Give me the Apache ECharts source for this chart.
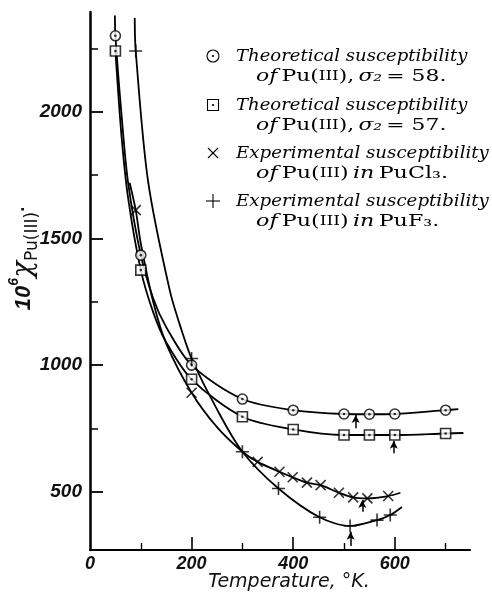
<!DOCTYPE html>
<html>
<head>
<meta charset="utf-8">
<script src="https://cdn.jsdelivr.net/npm/echarts@6/dist/echarts.min.js"></script>
<style>
html,body{margin:0;padding:0;background:#fff;}
#chart{width:492px;height:593px;}
</style>
</head>
<body>
<div id="chart"></div>
<script>
// ---- data ----
const xLabelValues = [0, 200, 400, 600];
const xMajorTicks = [200, 400, 600];
const xMinorTicks = [100, 300, 500, 700];
const yLabelValues = [500, 1000, 1500, 2000];
const yMinorTicks = [750, 1250, 1750, 2250];

// Theoretical susceptibility, sigma2 = 58 (circles)
const theo58 = [[50,2300],[100,1434],[200,1000],[300,866],[400,822],[500,807],[550,806],[600,807],[700,822]];
// extra points (no marker)
const theo58Curve = [[49,2380],[62,1990],[75,1720],[125,1260],[150,1150],[725,826]];
// Theoretical susceptibility, sigma2 = 57 (squares)
const theo57 = [[50,2240],[100,1375],[200,944],[300,796],[400,746],[500,724],[550,724],[600,724],[700,730]];
const theo57Curve = [[62,1905],[75,1660],[125,1205],[150,1090],[735,732]];
// Experimental, PuCl3 (crosses)
const puCl3 = [[90,1612],[200,891],[330,618],[373,579],[399,557],[427,536],[454,526],[490,496],[518,478],[546,474],[587,483]];
const puCl3Curve = [[78,1720],[100,1480],[125,1245],[150,1085],[250,755],[300,658],[611,496]];
// Experimental, PuF3 (pluses)
const puF3 = [[90,2240],[200,1026],[300,658],[371,513],[452,399],[512,365],[565,388],[591,408]];
const puF3Curve = [[88,2370],[114,1730],[157,1295],[182,1127],[250,825],[614,440]];
// arrows: [temperature, tail value, tip value]
const arrows = [[523,751,803],[598,652,701],[536,421,467],[513,286,342]];

const xMin = 0, xMax = 748, yMin = 270, yMax = 2394;

function curve(points, extra){ return points.concat(extra).sort((a,b)=>a[0]-b[0]); }

const labelFont = {fontFamily:'Liberation Sans', fontStyle:'italic', fontWeight:'bold', color:'#111'};

const lineCommon = {type:'line', smooth:0.3, symbol:'none', silent:true,
  lineStyle:{color:'#000', width:1.8}, z:2};

const crossPath = 'path://M0,0L10,10M10,0L0,10';
const plusPath = 'path://M5,0L5,10M0,5L10,5';
const plainNum = v => String(v);

const option = {
  animation:false,
  backgroundColor:'#fff',
  grid:{left:90, right:22, top:12, bottom:43},
  xAxis:[
    {type:'value', min:xMin, max:xMax, splitLine:{show:false},
     axisLine:{show:true, lineStyle:{color:'#000', width:2.2}},
     axisTick:{show:true, inside:true, length:13, lineStyle:{color:'#000', width:1.6}, customValues:xMajorTicks},
     axisLabel:Object.assign({fontSize:18, margin:5, customValues:xLabelValues, formatter:plainNum}, labelFont)},
    {type:'value', min:xMin, max:xMax, position:'bottom', splitLine:{show:false},
     axisLine:{show:false},
     axisTick:{show:true, inside:true, length:7, lineStyle:{color:'#000', width:1.4}, customValues:xMinorTicks},
     axisLabel:{show:false}}
  ],
  yAxis:[
    {type:'value', min:yMin, max:yMax, splitLine:{show:false},
     axisLine:{show:true, lineStyle:{color:'#000', width:2.5}},
     axisTick:{show:true, inside:true, length:13, lineStyle:{color:'#000', width:1.8}, customValues:yLabelValues},
     axisLabel:Object.assign({fontSize:19, margin:8, customValues:yLabelValues, formatter:plainNum}, labelFont)},
    {type:'value', min:yMin, max:yMax, position:'left', splitLine:{show:false},
     axisLine:{show:false},
     axisTick:{show:true, inside:true, length:8, lineStyle:{color:'#000', width:1.5}, customValues:yMinorTicks},
     axisLabel:{show:false}}
  ],
  series:[
    Object.assign({}, lineCommon, {data:curve(theo58, theo58Curve)}),
    Object.assign({}, lineCommon, {data:curve(theo57, theo57Curve)}),
    Object.assign({}, lineCommon, {data:curve(puCl3, puCl3Curve)}),
    Object.assign({}, lineCommon, {data:curve(puF3, puF3Curve),
      markLine:{silent:true, symbol:['none','arrow'], symbolSize:[6,8], label:{show:false},
        lineStyle:{color:'#000', width:1.5, type:'solid'},
        data:arrows.map(a => [{coord:[a[0],a[1]]},{coord:[a[0],a[2]]}])}}),
    {type:'scatter', data:theo58, symbol:'circle', symbolSize:10, z:5, silent:true,
     itemStyle:{color:'#fff', borderColor:'#000', borderWidth:1.6}},
    {type:'scatter', data:theo57, symbol:'rect', symbolSize:10, z:5, silent:true,
     itemStyle:{color:'#fff', borderColor:'#000', borderWidth:1.6}},
    {type:'scatter', data:theo58.concat(theo57), symbol:'circle', symbolSize:2.6, z:6, silent:true,
     itemStyle:{color:'#000'}},
    {type:'scatter', data:puCl3, symbol:crossPath, symbolSize:10, z:5, silent:true,
     itemStyle:{color:'none', borderColor:'#000', borderWidth:1.6}},
    {type:'scatter', data:puF3, symbol:plusPath, symbolSize:13, z:5, silent:true,
     itemStyle:{color:'none', borderColor:'#000', borderWidth:1.6}}
  ],
  graphic:[]
};

// legend (static drawing)
const serif = 'DejaVu Serif';
const legRich = {
  i:{fontFamily:serif, fontStyle:'italic', fontSize:17.5, fill:'#000'},
  r:{fontFamily:serif, fontSize:17.5, fill:'#000'},
  sc:{fontFamily:serif, fontSize:13.5, fill:'#000'}
};
const legendEntries = [
  {y:56, s1:1.03, s2:1.25, l1:'Theoretical susceptibility', l2:'{i|of} {r|Pu(}{sc|III}{r|),} {i|σ₂} {r|= 58.}'},
  {y:105, s1:1.03, s2:1.25, l1:'Theoretical susceptibility', l2:'{i|of} {r|Pu(}{sc|III}{r|),} {i|σ₂} {r|= 57.}'},
  {y:153, s1:1.04, s2:1.27, l1:'Experimental susceptibility', l2:'{i|of} {r|Pu(}{sc|III}{r|)} {i|in} {r|PuCl₃.}'},
  {y:201, s1:1.04, s2:1.27, l1:'Experimental susceptibility', l2:'{i|of} {r|Pu(}{sc|III}{r|)} {i|in} {r|PuF₃.}'}
];
legendEntries.forEach(e => {
  option.graphic.push({type:'text', x:236, y:e.y, scaleX:e.s1, style:{text:'{i|'+e.l1+'}', rich:legRich, verticalAlign:'middle', align:'left'}});
  option.graphic.push({type:'text', x:256, y:e.y+20, scaleX:e.s2, style:{text:e.l2, rich:legRich, verticalAlign:'middle', align:'left'}});
});
option.graphic.push(
  {type:'circle', shape:{cx:213, cy:56, r:6}, style:{fill:'#fff', stroke:'#000', lineWidth:1.1}},
  {type:'circle', shape:{cx:213, cy:56, r:1.1}, style:{fill:'#000'}},
  {type:'rect', shape:{x:207.5, y:99.5, width:11, height:11}, style:{fill:'#fff', stroke:'#000', lineWidth:1.1}},
  {type:'circle', shape:{cx:213, cy:105, r:1.1}, style:{fill:'#000'}},
  {type:'polyline', shape:{points:[[208,148],[218,158]]}, style:{stroke:'#000', lineWidth:1.1}},
  {type:'polyline', shape:{points:[[218,148],[208,158]]}, style:{stroke:'#000', lineWidth:1.1}},
  {type:'polyline', shape:{points:[[206,201],[220,201]]}, style:{stroke:'#000', lineWidth:1.1}},
  {type:'polyline', shape:{points:[[213,194],[213,208]]}, style:{stroke:'#000', lineWidth:1.1}}
);
// axis titles
option.graphic.push(
  {type:'text', x:289, y:582, style:{text:'Temperature, °K.', fontFamily:'DejaVu Sans', fontStyle:'italic', fontSize:19, fill:'#111', align:'center', verticalAlign:'middle'}},
  {type:'text', x:24, y:258, rotation:Math.PI/2, style:{
    text:'{a|10}{s|6}{c|χ}{d|Pu(III)}{e|·}', align:'center', verticalAlign:'middle',
    rich:{
      a:{fontFamily:'Liberation Sans', fontStyle:'italic', fontWeight:'bold', fontSize:22, lineHeight:22, verticalAlign:'middle', fill:'#111'},
      s:{fontFamily:'Liberation Sans', fontStyle:'italic', fontWeight:'bold', fontSize:14, lineHeight:14, verticalAlign:'top', fill:'#111'},
      c:{fontFamily:'DejaVu Serif', fontStyle:'italic', fontSize:28, lineHeight:34, verticalAlign:'middle', fill:'#111'},
      d:{fontFamily:'DejaVu Sans', fontSize:17, lineHeight:17, verticalAlign:'bottom', fill:'#111'},
      e:{fontFamily:'Liberation Sans', fontWeight:'bold', fontSize:18, lineHeight:34, verticalAlign:'middle', fill:'#111'}
    }}}
);

const chart = echarts.init(document.getElementById('chart'), null, {renderer:'canvas'});
chart.setOption(option);
</script>
</body>
</html>
